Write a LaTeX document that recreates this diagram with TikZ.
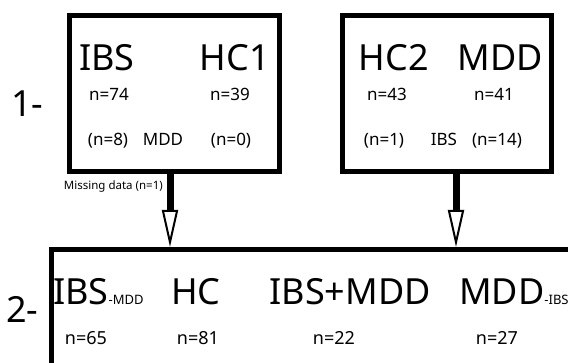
\documentclass[tikz,border=0pt]{standalone}
\usepackage{fontspec}
\setmainfont{Noto Sans}
\usetikzlibrary{arrows.meta}
\newcommand{\grpfont}{\fontsize{36}{40}\selectfont}
\newcommand{\cntfont}{\fontsize{17}{20}\selectfont}
\newcommand{\subgrp}[1]{{\fontsize{13}{14}\selectfont #1}}

\begin{document}
\begin{tikzpicture}[x=1pt, y=-1pt,
		groupbox/.style={draw, line width=5pt, minimum width=209.5pt, minimum height=155.5pt, inner sep=0pt},
		grp/.style={font=\grpfont, inner sep=0pt, anchor=base},
		cnt/.style={font=\cntfont, inner sep=0pt, anchor=base},
		flow/.style={line width=7pt, -{Triangle[open, length=37pt, width=16pt, line width=2pt]}}]
		\useasboundingbox (0,0) rectangle (568,363);
		% stage 1
		\node[groupbox](cohort1) at (174.5, 93.5){};
		\node[groupbox](cohort2) at (447, 93.5){};
		\node[grp, anchor=base west](stage1) at (11, 117){1-};
		\node[grp](ibs1) at (107, 71){IBS};
		\node[grp](hcone) at (235, 71){HC1};
		\node[cnt](nibs1) at (109, 101){n=74};
		\node[cnt](nhcone) at (230, 101){n=39};
		\node[cnt](comibs) at (108, 146){(n=8)};
		\node[cnt](mdd1) at (163, 146){MDD};
		\node[cnt](comhcone) at (231, 146){(n=0)};
		\node[grp](hctwo) at (394, 71){HC2};
		\node[grp](mdd2) at (500, 71){MDD};
		\node[cnt](nhctwo) at (387, 101){n=43};
		\node[cnt](nmdd2) at (494, 101){n=41};
		\node[cnt](comhctwo) at (384, 146){(n=1)};
		\node[cnt](ibs2) at (444, 146){IBS};
		\node[cnt](commdd) at (497, 146){(n=14)};
		% stage 2
		\coordinate(corner) at (51.5, 249.5);
		\draw[line width=5pt](51.5, 363)--(corner)--(568, 249.5);
		\node[grp, anchor=base west](stage2) at (6, 323){2-};
		\node[grp, anchor=base west](ibsonly) at (53, 305){IBS\subgrp{-MDD}};
		\node[grp](hc) at (196, 305){HC};
		\node[grp](ibsmdd) at (350, 305){IBS+MDD};
		\node[grp, anchor=base west](mddonly) at (459, 305){MDD\subgrp{-IBS}};
		\node[cnt, font=\fontsize{18}{21}\selectfont](nibsonly) at (86, 345){n=65};
		\node[cnt, font=\fontsize{18}{21}\selectfont](nhc) at (198, 345){n=81};
		\node[cnt, font=\fontsize{18}{21}\selectfont](nibsmdd) at (334, 345){n=22};
		\node[cnt, font=\fontsize{18}{21}\selectfont](nmddonly) at (497, 345){n=27};
		% arrows
		\coordinate(in1) at (170, 247);
		\coordinate(in2) at (456, 247);
		\draw[flow](cohort1.south -| in1)--(in1);
		\draw[flow](cohort2.south -| in2)--(in2);
		\node[font=\fontsize{11.5}{13}\selectfont, inner sep=0pt, anchor=base east](missing) at (163, 190){Missing data (n=1)};
\end{tikzpicture}
\end{document}
